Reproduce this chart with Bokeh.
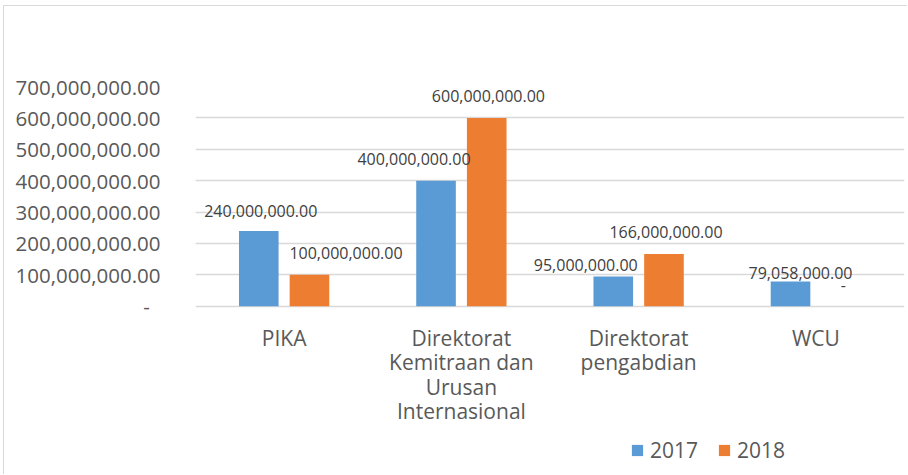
from bokeh.plotting import figure
from bokeh.models import (ColumnDataSource, FactorRange, Range1d, FixedTicker,
                          NumeralTickFormatter, Legend, LegendItem)
from bokeh.transform import dodge
from bokeh.core.properties import value
from bokeh.embed import file_html
from bokeh.resources import INLINE

# ---- data ----
categories = ["PIKA", "Direktorat Kemitraan dan Urusan Internasional",
              "Direktorat pengabdian", "WCU"]
category_lines = [["PIKA"],
                  ["Direktorat", "Kemitraan dan", "Urusan", "Internasional"],
                  ["Direktorat", "pengabdian"],
                  ["WCU"]]
series_names = ["2017", "2018"]
values_2017 = [240000000, 400000000, 95000000, 79058000]
values_2018 = [100000000, 600000000, 166000000, 0]
y_ticks = [0, 100000000, 200000000, 300000000, 400000000, 500000000, 600000000, 700000000]

# label nudges (screen px), style only
dx_2017 = [2, -22, -27.5, 10]
dy_2017 = [-20, -21.3, -11.7, -8.4]
dx_2018 = [36.5, 1.7, 2, 2]
dy_2018 = [-21.5, -21.6, -22.4, -21]

BLUE = "#5B9BD5"
ORANGE = "#ED7D31"
FONT = "Open Sans"
GRAY = "#595959"

def fmt(v):
    return "-" if v == 0 else f"{v:,.2f}"

src17 = ColumnDataSource(dict(cat=categories, val=values_2017,
                              lab=[fmt(v) for v in values_2017], dx=dx_2017, dy=dy_2017))
src18 = ColumnDataSource(dict(cat=categories, val=values_2018,
                              lab=[fmt(v) for v in values_2018], dx=dx_2018, dy=dy_2018))

# category label rows (one per text line)
cl_cat, cl_txt, cl_dy = [], [], []
for c, lines in zip(categories, category_lines):
    for i, t in enumerate(lines):
        cl_cat.append(c)
        cl_txt.append(t)
        cl_dy.append(31.3 + i * 24.5)
src_cl = ColumnDataSource(dict(cat=cl_cat, txt=cl_txt, y=[0] * len(cl_cat), dy=cl_dy))

p = figure(width=904, height=469, x_range=FactorRange(factors=categories),
           y_range=Range1d(-539.4e6, 700e6), output_backend="svg", toolbar_location=None,
           min_border_left=191, min_border_right=4, min_border_top=80, min_border_bottom=0)
p.outline_line_color = None
p.styles = {"margin-left": "3px", "margin-top": "5px",
            "border-top": "1px solid #d9d9d9", "border-left": "1px solid #d9d9d9"}

OFF = 0.143
W = 0.2235
r17 = p.vbar(x=dodge("cat", -OFF, range=p.x_range), top="val", width=W, source=src17,
             fill_color=BLUE, line_color=None)
r18 = p.vbar(x=dodge("cat", OFF, range=p.x_range), top="val", width=W, source=src18,
             fill_color=ORANGE, line_color=None)

for src, off in ((src17, -OFF), (src18, OFF)):
    p.text(x=dodge("cat", off, range=p.x_range), y="val", text="lab", source=src,
           x_offset="dx", y_offset="dy", text_align="center", text_baseline="middle",
           text_font=value(FONT), text_font_size="16px", text_color="#404040")

# category labels under the bars
p.text(x="cat", y="y", text="txt", y_offset="dy", source=src_cl,
       text_align="center", text_baseline="middle",
       text_font=value(FONT), text_font_size="21px", text_color=GRAY)

# axes
p.xgrid.grid_line_color = None
p.ygrid.grid_line_color = "#d9d9d9"
p.ygrid.grid_line_width = 1.3
p.xaxis.visible = False

ya = p.yaxis[0]
ya.ticker = FixedTicker(ticks=y_ticks)
ya.formatter = NumeralTickFormatter(format="0,0.00")
ya.major_label_overrides = {0: "-\u00a0\u00a0"}
ya.axis_line_color = None
ya.major_tick_line_color = None
ya.minor_tick_line_color = None
ya.major_label_standoff = 29
ya.major_label_text_font = FONT
ya.major_label_text_font_size = "20.5px"
ya.major_label_text_color = GRAY

legend = Legend(items=[LegendItem(label=series_names[0], renderers=[r17]),
                       LegendItem(label=series_names[1], renderers=[r18])],
                orientation="horizontal", location=(435, 11),
                glyph_width=14, glyph_height=14, label_standoff=6, spacing=19,
                padding=0, margin=0, border_line_color=None, background_fill_alpha=0,
                label_text_font=FONT, label_text_font_size="21px",
                label_text_color=GRAY)
p.add_layout(legend, "center")

open("out.html", "w").write(file_html(p, INLINE))
